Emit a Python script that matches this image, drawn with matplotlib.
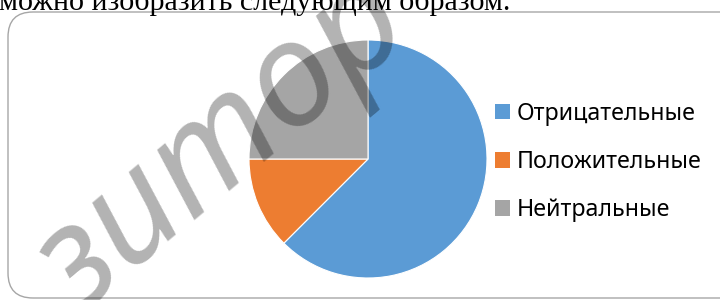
import matplotlib
matplotlib.use("Agg")
import matplotlib.pyplot as plt
from matplotlib.patches import FancyBboxPatch

# данные диаграммы
categories = ["Отрицательные", "Положительные", "Нейтральные"]
shares = [62.5, 12.5, 25.0]
colors = ["#5B9BD5", "#ED7D31", "#A5A5A5"]

caption = "можно изобразить следующим образом."
watermark = "зитор"

W, H = 720, 300
fig = plt.figure(figsize=(W / 100, H / 100), dpi=100)
fig.patch.set_facecolor("white")


def px(x, y):
    """пиксели от левого верхнего угла -> доли фигуры"""
    return x / W, 1 - y / H


# рамка области диаграммы (в пикселях экрана, начало снизу слева)
box = FancyBboxPatch((8, H - 298), 740, 298 - 12,
                     boxstyle="round,pad=0,rounding_size=25",
                     transform=None, facecolor="none",
                     edgecolor="#a6a6a6", linewidth=1.0)
fig.patches.append(box)

# строка текста над диаграммой
fig.text(*px(-1, 10), caption, family="Liberation Serif", fontsize=21.6,
         va="baseline", ha="left", color="black")

# круговая диаграмма
cx, cy, r = 368, 159, 119
ax = fig.add_axes([(cx - r) / W, (H - cy - r) / H, 2 * r / W, 2 * r / H])
wedges, _ = ax.pie(shares, colors=colors, startangle=90, counterclock=False,
                   radius=1, wedgeprops=dict(edgecolor="white", linewidth=0.8))
ax.set_xlim(-1, 1)
ax.set_ylim(-1, 1)
ax.set_aspect("equal")
ax.axis("off")

leg = fig.legend(wedges, categories, loc="upper left",
                 bbox_to_anchor=px(483, 90), frameon=False,
                 prop=dict(family="Noto Sans", size=16.7),
                 handlelength=0.65, handleheight=0.65, handletextpad=0.3,
                 labelspacing=1.05, borderpad=0)
for h in leg.legend_handles:
    h.set_edgecolor("none")

# водяной знак
fig.text(*px(222, 146), watermark, family="Noto Sans", style="italic",
         fontsize=105, rotation=40, rotation_mode="anchor",
         ha="center", va="center", color="black", alpha=0.3)

fig.savefig("out.png", dpi=100)
